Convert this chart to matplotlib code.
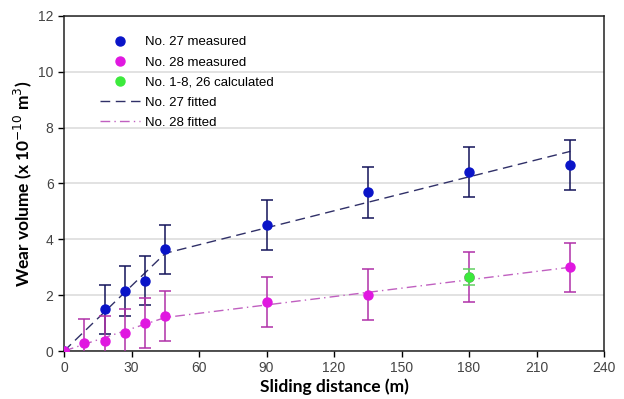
import matplotlib.pyplot as plt
from matplotlib.lines import Line2D
import numpy as np

# measured data, No. 27
x27 = [0, 18, 27, 36, 45, 90, 135, 180, 225]
y27 = [0, 1.5, 2.15, 2.52, 3.65, 4.52, 5.68, 6.42, 6.65]
e27 = [0, 0.88, 0.88, 0.88, 0.88, 0.9, 0.9, 0.9, 0.9]

# measured data, No. 28
x28 = [0, 9, 18, 27, 36, 45, 90, 135, 180, 225]
y28 = [0, 0.27, 0.37, 0.63, 1.0, 1.25, 1.75, 2.02, 2.65, 3.0]
e28 = [0, 0.86, 0.9, 0.88, 0.9, 0.9, 0.9, 0.9, 0.9, 0.88]

# calculated
xc = [180]
yc = [2.65]
ec = [0.3]

# fitted lines
xfit = [0, 45, 225]
fit27 = [0, 3.5, 7.15]
fit28 = [0, 1.2, 3.0]

c27, c28, cc = '#0a14c8', '#e018e0', '#3cea3c'
ls27 = (0, (7, 4))
ls28 = (0, (7, 3, 1, 3))

fig = plt.figure(figsize=(6.24, 3.99), dpi=100)
ax = fig.add_axes([0.1026, 0.1203, 0.8654, 0.8397])

ax.yaxis.grid(True, color='#dddddd', linewidth=1.2, zorder=0)
ax.set_axisbelow(True)

ax.plot(xfit, fit27, color='#303068', linestyle=ls27, linewidth=1, zorder=2)
ax.plot(xfit, fit28, color='#c060c0', linestyle=ls28, linewidth=1, zorder=2)

ax.errorbar(x27, y27, yerr=e27, fmt='o', color=c27, ecolor='#14145a', elinewidth=1.1,
            capsize=4.5, capthick=1.1, markersize=6.5, zorder=3)
ax.errorbar(x28, y28, yerr=e28, fmt='o', color=c28, ecolor='#b030a8', elinewidth=1.1,
            capsize=4.5, capthick=1.1, markersize=6.5, zorder=4)
ax.errorbar(xc, yc, yerr=ec, fmt='o', color=cc, ecolor='#60d060', elinewidth=1.1,
            capsize=4.5, capthick=1.1, markersize=6.5, zorder=5)

ax.set_xlim(0, 240)
ax.set_ylim(0, 12)
ax.set_xticks(np.arange(0, 241, 30))
ax.set_yticks(np.arange(0, 13, 2))
ax.tick_params(labelsize=10, labelcolor='#444444', length=4, width=1,
               direction='out')
for lab in ax.get_xticklabels() + ax.get_yticklabels():
    lab.set_family('Liberation Sans')
for s in ax.spines.values():
    s.set_linewidth(1.1)
    s.set_color('#222222')

ax.set_xlabel('Sliding distance (m)', fontsize=12.5, fontweight='bold', family='Lato', labelpad=2)
ax.set_ylabel('Wear volume (x 10$^{-10}$ m$^{3}$)', fontsize=12.5, fontweight='bold',
              family='Lato', labelpad=3)

handles = [
    Line2D([], [], linestyle='none', marker='o', color=c27, markersize=6.5),
    Line2D([], [], linestyle='none', marker='o', color=c28, markersize=6.5),
    Line2D([], [], linestyle='none', marker='o', color=cc, markersize=6.5),
    Line2D([], [], color='#303068', linestyle=ls27, linewidth=1),
    Line2D([], [], color='#c060c0', linestyle=ls28, linewidth=1),
]
labels = ['No. 27 measured', 'No. 28 measured', 'No. 1-8, 26 calculated',
          'No. 27 fitted', 'No. 28 fitted']
ax.legend(handles, labels, loc='upper left', bbox_to_anchor=(0.045, 0.975),
          frameon=False, handlelength=3.0, handletextpad=0.4, labelspacing=0.6,
          prop={'family': 'Liberation Sans', 'size': 9.5})

fig.savefig('out.png', dpi=100)
